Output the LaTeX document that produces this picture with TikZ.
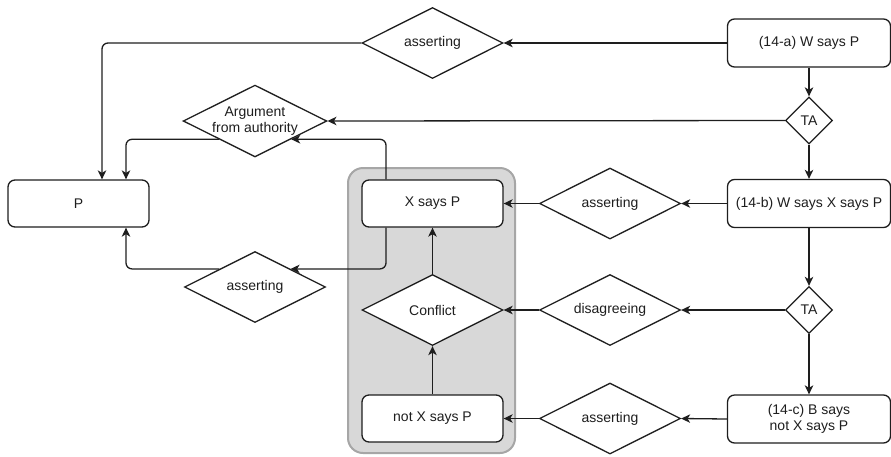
\documentclass[tikz,border=0pt]{standalone}
\usepackage{fontspec}
\setmainfont{Liberation Sans}
\usetikzlibrary{shapes.geometric,arrows.meta}
\definecolor{ink}{HTML}{1E1E1E}
\definecolor{groupfill}{HTML}{D8D8D8}
\definecolor{groupline}{HTML}{A6A6A6}
\begin{document}
\begin{tikzpicture}[x=1pt,y=-1pt,
  font=\fontsize{14}{16.5}\selectfont,
  every node/.style={text=ink},
  box/.style={draw=ink, line width=1.3pt, fill=white, rounded corners=7pt,
    minimum width=141pt, minimum height=47pt, inner sep=0pt, align=center},
  widebox/.style={box, minimum width=163pt, minimum height=48pt},
  dia/.style={diamond, draw=ink, line width=1.3pt, fill=white, aspect=2,
    minimum width=141pt, minimum height=71pt, inner sep=0pt, align=center},
  smalldia/.style={diamond, draw=ink, line width=1.3pt, fill=white, aspect=1,
    minimum width=47pt, minimum height=47pt, inner sep=0pt},
  flow/.style={draw=ink, line width=1.3pt, rounded corners=6pt,
    -{Stealth[length=9pt,width=8.5pt,inset=2.5pt]}},
]
\useasboundingbox (0,0) rectangle (891,456);

% grouping panel behind the middle column
\node[draw=groupline, line width=2pt, fill=groupfill, rounded corners=15pt,
  minimum width=167pt, minimum height=285pt] (grp) at (431.5,310.5) {};

% boxes
\node[box] (p) at (78.5,203.5) {P};
\node[box] (xs) at (432.5,203.5) {X says P};
\node[box] (nxs) at (432.5,418.5) {not X says P};
\node[widebox] (wa) at (809,43) {(14-a) W says P};
\node[widebox] (wb) at (809,203.5) {(14-b) W says X says P};
\node[widebox] (bc) at (809,419) {(14-c) B says\\not X says P};

% decisions
\node[dia] (as1) at (432.5,43) {asserting};
\node[dia] (auth) at (255,121) {Argument\\from authority};
\node[dia] (as2) at (610,203.5) {asserting};
\node[dia] (as4) at (255,287) {asserting};
\node[dia] (conf) at (432.5,310) {Conflict};
\node[dia] (dis) at (610,310) {disagreeing};
\node[dia] (as3) at (610,418.5) {asserting};
\node[smalldia] (ta1) at (809,120.5) {TA};
\node[smalldia] (ta2) at (809,310) {TA};

% routing columns
\coordinate (c1) at (102,0);
\coordinate (c2) at (126,0);
\coordinate (c3) at (386,0);

% right column
\draw[flow] (wa) -- (ta1);
\draw[flow] (ta1) -- (wb);
\draw[flow] (wb) -- (ta2);
\draw[flow] (ta2) -- (bc);

% leftward flows
\draw[flow] (wa.west) -- (as1.east);
\draw[flow] (ta1.west) -- (auth.east);
\draw[flow] (wb.west) -- (as2.east);
\draw[flow] (as2.west) -- (xs.east);
\draw[flow] (ta2.west) -- (dis.east);
\draw[flow] (dis.west) -- (conf.east);
\draw[flow] (bc.west) -- (as3.east);
\draw[flow] (as3.west) -- (nxs.east);

% inside the panel
\draw[flow] (nxs) -- (conf);
\draw[flow] (conf) -- (xs);

% towards P
\draw[flow] (as1.west) -| (c1 |- p.north);
\draw[flow] (auth.south west) -| (c2 |- p.north);
\draw[flow] (as4.north west) -| (c2 |- p.south);
\draw[flow] (c3 |- xs.north) |- (auth.south east);
\draw[flow] (c3 |- xs.south) |- (as4.north east);
\end{tikzpicture}
\end{document}
